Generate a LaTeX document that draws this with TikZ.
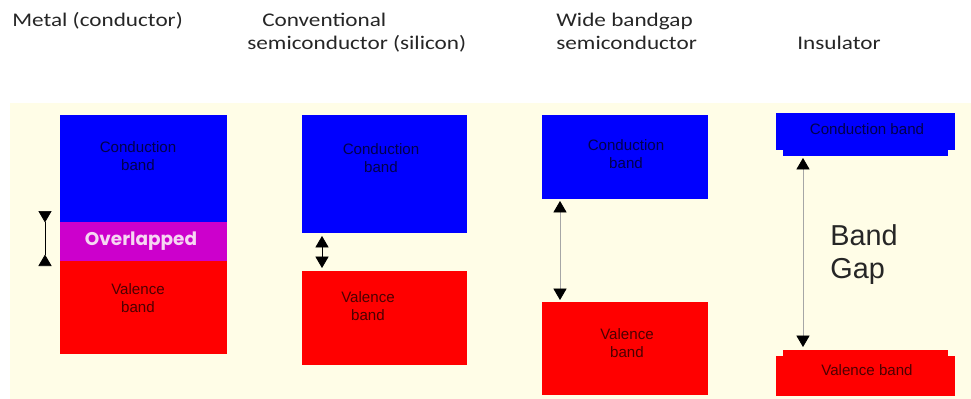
\documentclass[tikz,border=0pt]{standalone}
\usepackage{fontspec}
\setmainfont{Liberation Sans}
\newfontfamily\headfont[FakeStretch=1.2]{Carlito}
\newfontfamily\ovfont{Poppins}
\usetikzlibrary{arrows.meta}

\definecolor{bgcream}{HTML}{FFFDE7}
\definecolor{cband}{HTML}{0000FF}
\definecolor{vband}{HTML}{FF0000}
\definecolor{ovband}{HTML}{CC00CC}
\definecolor{ovtext}{HTML}{F6D6F2}

\begin{document}
\begin{tikzpicture}[x=0.02cm, y=-0.02cm,
    head/.style={font=\headfont\fontsize{11}{13}\selectfont, text=black!85,
      anchor=base west, inner sep=0pt},
    bandtext/.style={font=\fontsize{8.6}{10.2}\selectfont, text=black,
      text opacity=0.7, align=center, inner sep=0pt},
    gaparrow/.style={thin, {Triangle[width=7.5pt,length=6.5pt,color=black]}-{Triangle[width=7.5pt,length=6.5pt,color=black]}}]
    \useasboundingbox (0,0) rectangle (971,399);
    \fill [bgcream] (10,103) rectangle (971,399);

    % headings
    \path (12,27)  node [head] (hmetal) {Metal (conductor)}
          (262,27) node [head] (hconv1) {Conventional}
          (247,50) node [head] (hconv2) {semiconductor (silicon)}
          (556,27) node [head] (hwide1) {Wide bandgap}
          (556,50) node [head] (hwide2) {semiconductor}
          (797,50) node [head] (hins)   {Insulator};

    % metal
    \fill [cband]  (60,115) rectangle (227,222);
    \fill [ovband] (60,222) rectangle (227,261);
    \fill [vband]  (60,261) rectangle (227,354);
    \path (138,156) node [bandtext] (cmetal) {Conduction\\band}
          (138,298) node [bandtext] (vmetal) {Valence\\band}
          (141,241) node [font=\ovfont\bfseries\fontsize{10.5}{12}\selectfont, text=ovtext] (ovl) {Overlapped};
    \coordinate (gm1) at (45,211);
    \coordinate (gm2) at (45,266);
    \draw [thin, {Triangle[reversed,width=7.5pt,length=6.5pt]}-{Triangle[reversed,width=7.5pt,length=6.5pt]}] (gm1) -- (gm2);

    % conventional semiconductor
    \fill [cband] (302,115) rectangle (467,233);
    \fill [vband] (302,271) rectangle (467,365);
    \path (381,158) node [bandtext] (cconv) {Conduction\\band}
          (368,306) node [bandtext] (vconv) {Valence\\band};
    \coordinate (gc1) at (322,236);
    \coordinate (gc2) at (322,268);
    \draw [gaparrow] (gc1) -- (gc2);

    % wide bandgap
    \fill [cband] (542,115) rectangle (708,199);
    \fill [vband] (542,302) rectangle (708,395);
    \path (626,154) node [bandtext] (cwide) {Conduction\\band}
          (627,343) node [bandtext] (vwide) {Valence\\band};
    \coordinate (gw1) at (560,201);
    \coordinate (gw2) at (560,300);
    \draw [gaparrow, draw=gray!70] (gw1) -- (gw2);

    % insulator
    \fill [cband] (776,113) rectangle (955,150);
    \fill [cband] (783,150) rectangle (948,156);
    \fill [vband] (783,350) rectangle (948,356);
    \fill [vband] (776,356) rectangle (955,396);
    \path (867,129) node [bandtext] (cins) {Conduction band}
          (867,370) node [bandtext] (vins) {Valence band}
          (830,278) node [anchor=base west, inner sep=0pt, align=left, text=black!85,
                          font=\fontsize{16.4}{18.7}\selectfont] (bgap) {Band\\Gap};
    \coordinate (gi1) at (803,158);
    \coordinate (gi2) at (803,347);
    \draw [gaparrow, draw=gray!70] (gi1) -- (gi2);
\end{tikzpicture}
\end{document}
